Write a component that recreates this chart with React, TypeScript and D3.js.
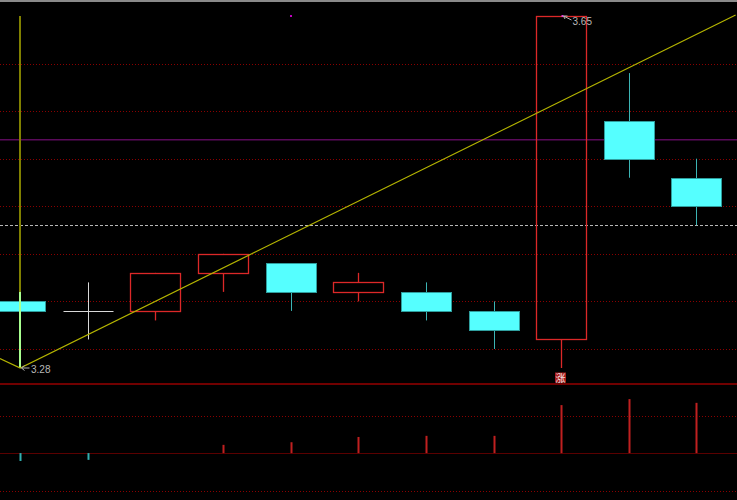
import React from "react";
import * as d3 from "d3";

// Daily bars: open / close / high / low
const opens = [3.35, 3.34, 3.34, 3.38, 3.39, 3.36, 3.36, 3.34, 3.31, 3.54, 3.48];
const closes = [3.34, 3.34, 3.38, 3.40, 3.36, 3.37, 3.34, 3.32, 3.65, 3.50, 3.45];
const highs = [3.36, 3.37, 3.38, 3.40, 3.39, 3.38, 3.37, 3.35, 3.65, 3.59, 3.50];
const lows = [3.28, 3.31, 3.33, 3.36, 3.34, 3.35, 3.33, 3.30, 3.28, 3.48, 3.43];

// Lower-pane indicator histogram
const indicator = [-0.21, -0.18, 0, 0.22, 0.29, 0.43, 0.46, 0.46, 1.28, 1.44, 1.34];

// Price reference levels
const gridLevels = [3.3, 3.35, 3.4, 3.45, 3.5, 3.55, 3.6];
const purpleLevel = 3.52;
const prevCloseLevel = 3.43;
const indicatorGrid = [-1, 1];

// Trend line anchors (bar index, price)
const trendIdx = [-0.3, 0, 10.58];
const trendPrice = [3.29, 3.28, 3.651];

const maxLabel = "3.65";
const minLabel = "3.28";
const maxIndex = 8;
const minIndex = 0;
const upTag = "涨";

const W = 737;
const H = 500;

export default function App() {
  const x = d3.scaleLinear().domain([0, 10]).range([20.2, 696.4]);
  const y = d3.scaleLinear().domain([3.28, 3.65]).range([368, 16]);
  const yi = d3.scaleLinear().domain([-1, 1]).range([490.6, 415.6]);
  const bodyW = 50;
  const upColor = "#dc2828";

  const trendLine = d3
    .line<number>()
    .x((_, k) => x(trendIdx[k]))
    .y((p) => y(p))(trendPrice) as string;

  const candles = opens.map((o, i) => {
    const c = closes[i];
    const cx = Math.round(x(i)) + 0.5;
    const top = Math.round(y(Math.max(o, c))) + 0.5;
    const bot = Math.round(y(Math.min(o, c))) + 0.5;
    if (c > o) {
      return (
        <g key={i}>
          <line x1={cx} x2={cx} y1={y(highs[i])} y2={top} stroke={upColor} strokeWidth={1.3} />
          <line x1={cx} x2={cx} y1={bot} y2={y(lows[i])} stroke={upColor} strokeWidth={1.3} />
          <rect x={cx - bodyW / 2} y={top} width={bodyW} height={bot - top} fill="none" stroke={upColor} strokeWidth={1.3} />
        </g>
      );
    }
    if (c < o) {
      return (
        <g key={i}>
          <line x1={cx} x2={cx} y1={y(highs[i])} y2={y(lows[i])} stroke="#3cb4b4" />
          <rect x={cx - bodyW / 2} y={top} width={bodyW} height={bot - top} fill="#55ffff" stroke="#2f9e9e" />
        </g>
      );
    }
    return (
      <g key={i}>
        <line x1={cx} x2={cx} y1={y(highs[i])} y2={y(lows[i])} stroke="#d8d8d8" />
        <line x1={cx - bodyW / 2} x2={cx + bodyW / 2} y1={Math.round(y(c)) + 0.5} y2={Math.round(y(c)) + 0.5} stroke="#d8d8d8" />
      </g>
    );
  });

  const x0 = Math.round(x(minIndex)) + 0.5;
  const xMax = Math.round(x(maxIndex)) + 0.5;
  const yMin = y(lows[minIndex]);
  const yMax = y(highs[maxIndex]);

  return (
    <svg
      width={W}
      height={H}
      style={{ position: "fixed", left: 0, top: 0, display: "block" }}
      fontFamily="Liberation Sans, Arial, sans-serif"
    >
      <rect x={0} y={0} width={W} height={H} fill="#000" />
      <line x1={0} x2={W} y1={1} y2={1} stroke="#8a8a8a" strokeWidth={2} />

      {/* price grid */}
      {gridLevels.map((p) => (
        <line key={p} x1={0} x2={W} y1={Math.round(y(p)) + 0.5} y2={Math.round(y(p)) + 0.5} stroke="#8a0000" strokeDasharray="1,2" />
      ))}
      <line x1={0} x2={W} y1={y(purpleLevel)} y2={y(purpleLevel)} stroke="#5a0a5a" strokeWidth={1.6} />
      <line x1={0} x2={W} y1={Math.round(y(prevCloseLevel)) + 0.5} y2={Math.round(y(prevCloseLevel)) + 0.5} stroke="#b8b8b8" strokeDasharray="3,2" />

      {/* vertical marker through the low bar */}
      <line x1={x0 - 0.5} x2={x0 - 0.5} y1={y(3.65)} y2={y(highs[minIndex])} stroke="#808000" strokeWidth={2} />

      {candles}

      <line x1={x0 - 0.5} x2={x0 - 0.5} y1={y(highs[minIndex])} y2={yMin} stroke="#a8ff90" strokeWidth={2} />

      {/* trend line */}
      <path d={trendLine} fill="none" stroke="#b4b400" strokeWidth={1.2} />

      {/* extreme markers */}
      <rect x={290} y={15} width={2} height={2} fill="#c000c0" />
      <rect x={xMax} y={yMax - 1} width={2} height={2} fill="#e040e0" />
      <path d={`M${xMax + 2},${yMax} L${xMax + 10},${yMax + 4} M${xMax + 2},${yMax} l4,0 M${xMax + 2},${yMax} l1.5,3`} stroke="#b0b0b0" fill="none" />
      <text x={xMax + 11} y={yMax + 8.5} fontSize={10} fill="#b8b8b8">{maxLabel}</text>
      <path d={`M${x0 + 1},${yMin} L${x0 + 9},${yMin} M${x0 + 1},${yMin} l3,-2.5 M${x0 + 1},${yMin} l3,2.5`} stroke="#b0b0b0" fill="none" />
      <text x={x0 + 10.5} y={yMin + 4.5} fontSize={10} fill="#b8b8b8">{minLabel}</text>

      {/* up tag under the big bar */}
      <rect x={xMax - 6.5} y={372.5} width={11} height={10} fill="#a81c1c" />
      <text x={xMax - 1} y={381.5} fontSize={10} fill="#f4e0e0" textAnchor="middle" fontFamily="Noto Sans CJK SC">{upTag}</text>

      {/* pane separator */}
      <line x1={0} x2={W} y1={384} y2={384} stroke="#700000" strokeWidth={2} />

      {/* indicator pane */}
      {indicatorGrid.map((v) => (
        <line key={v} x1={0} x2={W} y1={Math.round(yi(v)) + 0.5} y2={Math.round(yi(v)) + 0.5} stroke="#8a0000" strokeDasharray="1,2" />
      ))}
      <line x1={0} x2={W} y1={Math.round(yi(0)) + 0.5} y2={Math.round(yi(0)) + 0.5} stroke="#5a0000" />
      {indicator.map((v, i) =>
        v === 0 ? null : (
          <rect
            key={i}
            x={Math.round(x(i)) - 0.5}
            y={Math.min(yi(v), yi(0))}
            width={2}
            height={Math.abs(yi(v) - yi(0))}
            fill={v > 0 ? "#c02020" : "#30b0b0"}
          />
        )
      )}
    </svg>
  );
}
